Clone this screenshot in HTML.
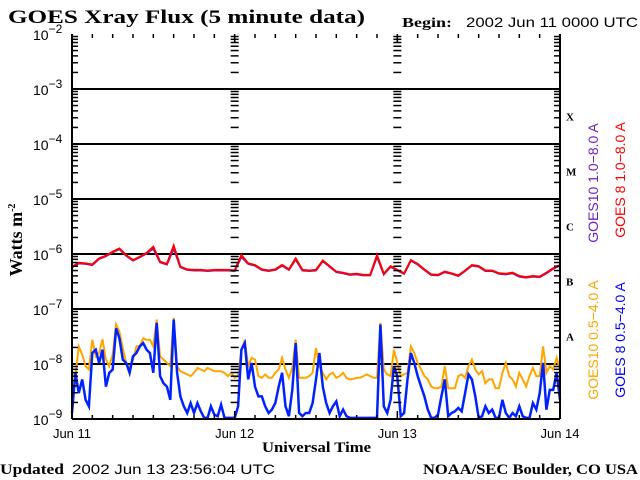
<!DOCTYPE html>
<html><head><meta charset="utf-8"><style>
html,body{margin:0;padding:0;background:#fff;}
svg{display:block;}
.sans{font-family:"Liberation Sans",sans-serif;}
.serif{font-family:"Liberation Serif",serif;font-weight:bold;}
</style></head><body>
<svg id="chart" width="640" height="480" viewBox="0 0 640 480" xmlns="http://www.w3.org/2000/svg">
<text class="serif" x="8" y="23" font-size="19" textLength="357" lengthAdjust="spacingAndGlyphs">GOES Xray Flux (5 minute data)</text>
<text class="serif" x="402" y="27" font-size="14" textLength="50" lengthAdjust="spacingAndGlyphs">Begin:</text>
<text class="sans" x="466" y="27" font-size="14" textLength="172" lengthAdjust="spacingAndGlyphs">2002 Jun 11 0000 UTC</text>
<g id="grid"></g>
<g id="series"></g>
<g id="axes"></g>
<text class="serif" font-size="18" transform="translate(22,240) rotate(-90)" text-anchor="middle">Watts m<tspan font-size="10" dy="-7">-2</tspan></text>
<text class="serif" x="262" y="452" font-size="15" textLength="109" lengthAdjust="spacingAndGlyphs">Universal Time</text>
<text class="serif" x="0" y="474" font-size="15" textLength="64" lengthAdjust="spacingAndGlyphs">Updated</text>
<text class="sans" x="72" y="474" font-size="14" textLength="203" lengthAdjust="spacingAndGlyphs">2002 Jun 13 23:56:04 UTC</text>
<text class="serif" x="423" y="474" font-size="15" textLength="215" lengthAdjust="spacingAndGlyphs">NOAA/SEC Boulder, CO USA</text>
<text class="sans" font-size="14" fill="#7020c0" transform="translate(598,183) rotate(-90)" text-anchor="middle">GOES10 1.0−8.0 A</text>
<text class="sans" font-size="14" fill="#ff0000" transform="translate(625,180) rotate(-90)" text-anchor="middle">GOES 8 1.0−8.0 A</text>
<text class="sans" font-size="14" fill="#ffa500" transform="translate(598,340) rotate(-90)" text-anchor="middle">GOES10 0.5−4.0 A</text>
<text class="sans" font-size="14" fill="#0000ff" transform="translate(625,340) rotate(-90)" text-anchor="middle">GOES 8 0.5−4.0 A</text>
</svg>
<script>
// log10 flux values
const dayLabels = ["Jun 11","Jun 12","Jun 13","Jun 14"];
const decadeExps = [-2,-3,-4,-5,-6,-7,-8,-9];
const classLetters = ["X","M","C","B","A"];
const goes8Long = [
-6.23,-6.16,-6.17,-6.19,-6.08,-6.03,-5.96,-5.90,-6.02,-6.11,-6.05,-5.98,-5.87,-6.14,-6.18,-5.85,-6.23,-6.28,-6.29,-6.29,-6.30,-6.29,-6.29,-6.29,
-6.30,-6.02,-6.17,-6.20,-6.28,-6.30,-6.28,-6.20,-6.28,-6.08,-6.29,-6.30,-6.29,-6.12,-6.22,-6.32,-6.34,-6.37,-6.36,-6.38,-6.38,-6.02,-6.36,-6.22,
-6.29,-6.35,-6.11,-6.18,-6.28,-6.37,-6.38,-6.32,-6.35,-6.39,-6.30,-6.20,-6.22,-6.30,-6.30,-6.35,-6.36,-6.34,-6.40,-6.42,-6.40,-6.41,-6.34,-6.26,-6.20];
const goes10Long = [
-6.24,-6.17,-6.18,-6.20,-6.09,-6.04,-5.97,-5.91,-6.03,-6.12,-6.06,-5.99,-5.90,-6.15,-6.19,-5.90,-6.24,-6.29,-6.30,-6.30,-6.31,-6.30,-6.30,-6.30,
-6.31,-6.05,-6.18,-6.21,-6.29,-6.31,-6.29,-6.21,-6.29,-6.10,-6.30,-6.31,-6.30,-6.13,-6.23,-6.33,-6.35,-6.38,-6.37,-6.39,-6.39,-6.05,-6.37,-6.23,
-6.30,-6.36,-6.12,-6.19,-6.29,-6.38,-6.39,-6.33,-6.36,-6.40,-6.31,-6.21,-6.23,-6.31,-6.31,-6.36,-6.37,-6.35,-6.41,-6.43,-6.41,-6.42,-6.35,-6.27,-6.21];
const goes10Short = [
-8.16,-8.22,-7.68,-7.83,-8.04,-8.10,-7.56,-7.86,-7.80,-7.55,-7.92,-8.04,-7.83,-7.28,-7.41,-7.71,-7.98,-8.07,-7.92,-7.68,-7.67,-7.53,-7.56,-7.56,-7.68,-7.19,-7.86,-7.92,-7.98,-8.04,-7.16,-8.04,-8.13,-8.16,-8.19,-8.22,-8.16,-8.07,-8.10,-8.13,-8.07,-8.10,-8.13,-8.13,-8.13,-8.16,-8.22,-8.16,
-8.25,-8.22,-7.74,-7.56,-8.04,-7.89,-7.92,-8.22,-8.25,-8.19,-8.25,-8.25,-8.16,-8.10,-7.89,-8.10,-8.25,-8.07,-7.56,-8.25,-8.25,-8.25,-8.22,-8.16,-7.71,-8.04,-8.16,-8.28,-8.19,-8.16,-8.25,-8.22,-8.16,-8.25,-8.28,-8.27,-8.25,-8.25,-8.22,-8.19,-8.22,-8.25,-8.25,-7.25,-8.10,-8.19,-8.22,-7.74,
-7.98,-8.22,-8.19,-8.16,-7.68,-7.80,-7.98,-8.10,-8.22,-8.28,-8.41,-8.44,-8.44,-8.41,-8.04,-8.44,-8.44,-8.44,-8.22,-8.19,-8.25,-8.04,-7.92,-8.10,-8.19,-8.13,-8.35,-8.28,-8.28,-8.44,-8.44,-8.16,-7.98,-8.22,-8.28,-8.41,-8.16,-8.28,-8.41,-8.22,-8.07,-8.22,-8.22,-7.68,-8.16,-8.04,-8.10,-7.89,-8.10];
const goes8Short = [
-8.89,-8.16,-8.53,-8.28,-8.65,-8.77,-7.80,-7.74,-7.98,-7.74,-8.41,-8.16,-8.10,-7.35,-7.53,-7.92,-7.98,-8.16,-7.86,-7.80,-7.68,-7.62,-7.74,-7.80,-8.16,-7.25,-8.22,-8.35,-8.41,-8.65,-7.19,-8.16,-8.59,-8.77,-8.89,-8.71,-8.89,-8.71,-8.86,-8.98,-8.98,-8.77,-8.92,-8.95,-8.74,-8.98,-8.98,-8.98,
-8.98,-8.77,-7.74,-7.62,-8.28,-7.98,-8.41,-8.59,-8.59,-8.77,-8.89,-8.83,-8.71,-8.41,-8.16,-8.77,-8.95,-8.47,-7.62,-8.89,-8.95,-8.89,-8.89,-8.71,-8.28,-7.80,-8.41,-8.71,-8.89,-8.77,-8.68,-8.95,-8.83,-8.95,-8.98,-8.98,-8.98,-8.98,-8.98,-8.98,-8.98,-8.98,-8.98,-7.28,-8.77,-8.89,-8.65,-8.04,
-8.22,-8.95,-8.89,-8.28,-7.80,-7.98,-8.22,-8.41,-8.59,-8.83,-8.98,-8.98,-8.92,-8.59,-8.28,-8.95,-8.89,-8.86,-8.80,-8.86,-8.53,-8.19,-8.28,-8.59,-8.98,-8.95,-8.77,-8.89,-8.83,-8.98,-8.98,-8.65,-8.89,-8.98,-8.89,-8.95,-8.77,-8.95,-8.98,-8.98,-8.71,-8.83,-8.53,-7.98,-8.83,-8.47,-8.47,-8.16,-8.65];

const NS="http://www.w3.org/2000/svg";
const X0=72,X1=560,Y0=34,YB=419,DEC=55;
const HOURS=72;
function xScale(h){return X0+(X1-X0)*h/HOURS;}
function yScale(e){return YB-(Math.max(e,-9)+9)*DEC;}
function mk(tag,attrs,parent){const el=document.createElementNS(NS,tag);for(const k in attrs)el.setAttribute(k,attrs[k]);parent.appendChild(el);return el;}
const grid=document.getElementById('grid'),axes=document.getElementById('axes'),ser=document.getElementById('series');

decadeExps.forEach(function(e){
  if(e>-3||e<-8) return;
  const l=mk('line',{x1:X0,x2:X1,y1:yScale(e),y2:yScale(e),stroke:'#000','stroke-width':2},grid);
  
  
});
[[X0,Y0,X0,YB],[X1,Y0,X1,YB],[X0,YB,X1,YB]].forEach(function(c){
  const l=mk('line',{x1:c[0],y1:c[1],x2:c[2],y2:c[3],stroke:'#000','stroke-width':2},axes);
  
  
});
for(let d=-9;d<-2;d++){
  for(let m=2;m<=9;m++){
    const y=yScale(d+Math.log10(m));
    const xs=[[X0,X0+6],[X1-6,X1],[xScale(24)-4,xScale(24)+4],[xScale(48)-4,xScale(48)+4]];
    xs.forEach(function(p){const t=mk('line',{x1:p[0],x2:p[1],y1:y,y2:y,stroke:'#000','stroke-width':1.5},axes);
      
      });
  }
}
for(let h=0;h<=HOURS;h+=3){
  const x=xScale(h);const len=(h%24===0)?8:4;
  const a=mk('line',{x1:x,x2:x,y1:Y0,y2:Y0+len,stroke:'#000','stroke-width':1.5},axes);
  
  
  const b=mk('line',{x1:x,x2:x,y1:YB,y2:YB-len,stroke:'#000','stroke-width':1.5},axes);
  
  
}
decadeExps.forEach(function(e){
  const t=mk('text',{x:33,y:yScale(e)+6,'font-size':14,'class':'sans'},axes);
  
  
  t.textContent='10';
  const s=mk('tspan',{'font-size':12,dy:-7},t);s.textContent='−'+(-e);
});
dayLabels.forEach(function(d,i){
  const t=mk('text',{x:xScale(i*24),y:438,'font-size':13,'text-anchor':'middle','class':'sans'},axes);
  
  
  t.textContent=d;
});
classLetters.forEach(function(c,i){
  const t=mk('text',{x:566,y:yScale(-3.5-i)+4,'font-size':11,'class':'serif'},axes);
  
  
  t.textContent=c;
});
function drawSeries(arr,step,color,name,w){
  const pts=arr.map(function(v,i){return xScale(i*step).toFixed(1)+','+yScale(v).toFixed(1);}).join(' ');
  const p=mk('polyline',{points:pts,fill:'none',stroke:color,'stroke-width':w,'stroke-linejoin':'miter'},ser);
  
  
}
drawSeries(goes10Short,0.5,'#ffa500','goes10-short-line',2);
drawSeries(goes8Short,0.5,'#0022ff','goes8-short-line',2.5);
drawSeries(goes10Long,1,'#7020c0','goes10-long-line',2);
drawSeries(goes8Long,1,'#ff0000','goes8-long-line',2);
</script>
</body></html>
